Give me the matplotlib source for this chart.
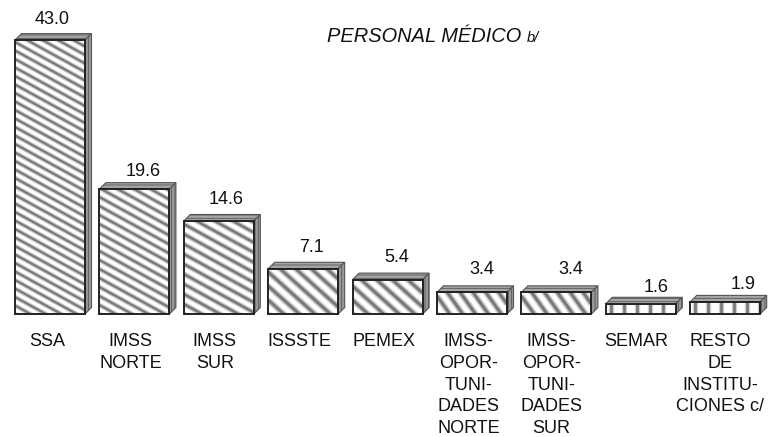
import numpy as np
import matplotlib
matplotlib.use("Agg")
import matplotlib.pyplot as plt
from matplotlib.patches import Polygon
from matplotlib.collections import LineCollection

plt.rcParams['font.family'] = ['Liberation Sans', 'DejaVu Sans']
plt.rcParams['hatch.linewidth'] = 0.6

# data
categories = ["SSA", "IMSS\nNORTE", "IMSS\nSUR", "ISSSTE", "PEMEX",
              "IMSS-\nOPOR-\nTUNI-\nDADES\nNORTE",
              "IMSS-\nOPOR-\nTUNI-\nDADES\nSUR",
              "SEMAR", "RESTO\nDE\nINSTITU-\nCIONES c/"]
values = [43.0, 19.6, 14.6, 7.1, 5.4, 3.4, 3.4, 1.6, 1.9]
value_labels = ["43.0", "19.6", "14.6", "7.1", "5.4", "3.4", "3.4", "1.6", "1.9"]

# stripe look per bar: vertical spacing (px), slope
stripe_gap = [8.5, 9, 10, 14, 14, 18, 18, 0, 0]
stripe_slope = [0.55, 0.55, 0.55, 0.9, 0.9, 1.4, 1.4, 0, 0]
# label tweaks in px
label_dx = [-3, -4, -4, -4, -3.5, -3.5, -5, -5, -5]
value_dx = [2, 9, 7, 8, 9, 10, 14, 15, 18]
value_dy = [6, 3, 7, 7, 8, 8, 8, 2, 3]

W, H = 769, 437
PITCH = 84.4
PX_UNIT = 6.37
BASE = 314
DEPTH = 6.5

fig = plt.figure(figsize=(W / 100, H / 100), dpi=100)
ax = fig.add_axes([0, 0, 1, 1])
ax.set_xlim(-50 / PITCH, (W - 50) / PITCH)
ax.set_ylim(-(H - BASE) / PX_UNIT, BASE / PX_UNIT)
ax.axis("off")

bw = 70 / PITCH
dx = DEPTH / PITCH
dy = DEPTH / PX_UNIT
x = np.arange(len(values))

bars = ax.bar(x, values, width=bw, color="white", edgecolor="none", zorder=2)


def px(xv, yv):
    return ax.transData.transform((xv, yv))


for i, (b, v) in enumerate(zip(bars, values)):
    l = x[i] - bw / 2
    r = x[i] + bw / 2
    x0, y0 = px(l, 0)
    x1, y1 = px(r, v)
    segs = []
    if stripe_gap[i] > 0:
        s = stripe_slope[i]
        span = (x1 - x0) * s + (y1 - y0)
        for o in np.arange(0, span + stripe_gap[i], stripe_gap[i]):
            segs.append([(x0, y0 + o), (x1, y0 + o - (x1 - x0) * s)])
        lw = stripe_gap[i] / np.sqrt(1 + s * s)
    else:
        # small bars use an upright pattern
        for o in np.arange(x0 + 5, x1, 13):
            segs.append([(o, y0), (o, y1)])
        lw = 9
    # soft wide stripe under a narrow dark one, reference looks blurred
    for color, frac in [("#cfcfcf", 0.6), ("#7a7a7a", 0.3)]:
        lc = LineCollection(segs, colors=color, linewidths=lw * frac * 0.72,
                            transform=None, zorder=3)
        ax.add_collection(lc)
        lc.set_clip_path(b)

    # front outline, top and side faces
    ax.add_patch(Polygon([(l, 0), (r, 0), (r, v), (l, v)], closed=True, fill=False,
                         ec="#222222", lw=1.4, zorder=5))
    ax.add_patch(Polygon([(l, v), (r, v), (r + dx, v + dy), (l + dx, v + dy)], closed=True,
                         fc="#a6a6a6", ec="#555555", hatch="-----", lw=0.8, zorder=4))
    ax.add_patch(Polygon([(r, 0), (r + dx, dy), (r + dx, v + dy), (r, v)], closed=True,
                         fc="#999999", ec="#555555", hatch="|||||", lw=0.8, zorder=4))

    ax.annotate(value_labels[i], (x[i], v), xytext=(value_dx[i] * 0.72, (value_dy[i] + 6) * 0.72),
                textcoords="offset points", ha="center", va="bottom", fontsize=13, color="#111111")
    ax.annotate(categories[i], (x[i], 0), xytext=(label_dx[i] * 0.72, -19.5 * 0.72),
                textcoords="offset points", ha="center", va="top", fontsize=13,
                linespacing=1.35, color="#111111")

ax.text(424 / W, 1 - 36 / H, "PERSONAL MÉDICO", transform=ax.transAxes, ha="center", va="center",
        fontsize=14.4, style="italic", color="#111111")
ax.text(527 / W, 1 - 38 / H, "b/", transform=ax.transAxes, ha="left", va="center",
        fontsize=10.5, style="italic", color="#111111")

fig.savefig("out.png", dpi=100)
